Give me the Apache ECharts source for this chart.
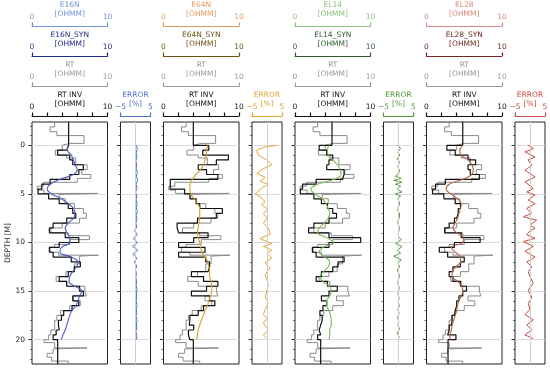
<!DOCTYPE html>
<html><head><meta charset="utf-8">
<script src="https://cdn.jsdelivr.net/npm/echarts@6/dist/echarts.min.js"></script>
<style>html,body{margin:0;padding:0;background:#fff}#c{width:550px;height:368px}</style>
</head><body><div id="c"></div>
<script>
// ---------- DATA ----------
const depthMajor = [0, 5, 10, 15, 20];
const depthMinor = [-2, -1, 1, 2, 3, 4, 6, 7, 8, 9, 11, 12, 13, 14, 16, 17, 18, 19, 21, 22];
const rtTicksTop = [0, 10];
const rtInvTicks = [0, 2, 4, 6, 8, 10];
const errTicks = [-5, 5];

// RT (true log, gray) layer boundaries and values
const rtBounds = [-2.4, -1.9, -1.4, -1.0, -0.2, 0, 0.5, 1.0, 1.3, 2.0, 2.5, 3.0, 3.4, 3.8, 4.2, 4.6, 4.95, 5.05, 5.5, 6.0, 6.5, 7.0, 7.5, 8.0, 8.5, 9.0, 9.3, 9.7, 10.2, 10.5, 11.0, 11.3, 11.4, 12.2, 13.0, 13.5, 14.0, 14.5, 15.0, 15.5, 16.0, 16.5, 17.0, 17.5, 18.0, 19.0, 19.5, 20.0, 20.3, 20.85, 20.95, 21.4, 21.8, 22.2, 22.5];
const rtValues = [3.0, 2.4, 3.3, 6.9, 5.0, 4.0, 3.1, 4.6, 5.8, 7.3, 6.6, 7.8, 6.0, 1.5, 0.7, 1.6, 8.7, 3.6, 4.4, 5.6, 6.8, 7.2, 6.3, 4.0, 2.5, 4.8, 7.6, 5.0, 3.0, 2.4, 3.5, 8.8, 6.3, 5.6, 4.5, 3.2, 4.6, 7.0, 7.2, 5.5, 6.4, 5.0, 3.8, 3.3, 3.0, 2.5, 2.2, 1.6, 3.0, 7.3, 2.8, 2.0, 2.6, 4.8];

// Inversion (RT INV) layer boundaries (shared) and per-dataset values
const invBounds = [-2.4, 0, 0.5, 1, 1.5, 2, 2.5, 3, 3.5, 4, 4.5, 5, 5.5, 6, 6.5, 7, 7.5, 8, 8.5, 9, 9.5, 10, 10.5, 11, 11.5, 12, 12.5, 13, 13.5, 14, 14.5, 15, 15.5, 16, 16.5, 17, 17.5, 18, 18.5, 19, 19.5, 20, 22.5];
const invE16N = [4.85, 4.6, 3.4, 5.0, 5.4, 6.8, 6.2, 5.0, 2.4, 1.3, 0.8, 2.2, 3.6, 4.8, 5.4, 5.8, 4.6, 2.8, 2.3, 4.4, 6.2, 3.6, 2.3, 2.8, 5.2, 6.4, 5.6, 4.8, 3.6, 4.6, 6.3, 6.8, 5.4, 6.2, 5.3, 4.2, 3.9, 3.5, 3.6, 3.2, 2.8, 3.4];
const invE64N = [3.95, 6.0, 5.2, 8.6, 7.0, 4.6, 5.7, 7.2, 0.9, 0.9, 2.8, 3.5, 4.3, 4.8, 7.8, 7.0, 4.5, 1.8, 2.0, 5.9, 4.0, 2.0, 5.5, 2.0, 5.6, 6.1, 5.9, 3.7, 5.3, 7.2, 5.7, 3.7, 6.1, 6.8, 5.3, 4.6, 3.5, 3.4, 4.0, 3.3, 3.5, 3.95];
const invEL14 = [4.9, 3.2, 4.2, 5.0, 4.5, 4.2, 6.5, 6.3, 2.8, 1.0, 0.7, 2.5, 3.5, 4.3, 5.0, 5.5, 4.5, 2.5, 1.8, 4.5, 8.7, 4.5, 2.3, 2.8, 6.5, 5.7, 5.0, 3.5, 2.8, 4.3, 5.6, 4.5, 3.5, 4.2, 3.7, 3.3, 3.6, 3.4, 3.2, 3.4, 3.0, 3.4];
const invEL28 = [4.8, 2.7, 3.8, 5.5, 6.5, 5.5, 5.8, 7.0, 2.5, 1.2, 0.8, 2.3, 3.8, 4.5, 4.2, 4.0, 3.7, 3.0, 2.4, 4.6, 7.1, 3.7, 1.7, 2.8, 5.0, 4.5, 3.5, 3.0, 3.5, 4.5, 5.3, 4.8, 4.3, 4.0, 3.8, 3.7, 3.4, 3.3, 3.0, 2.8, 3.9, 2.85];

// Synthetic responses
const synDepth = [0, 0.5, 1, 1.5, 2, 2.5, 3, 3.5, 4, 4.5, 5, 5.5, 6, 6.5, 7, 7.5, 8, 8.5, 9, 9.5, 10, 10.5, 11, 11.5, 12, 12.5, 13, 13.5, 14, 14.5, 15, 15.5, 16, 16.5, 17, 17.5, 18, 18.5, 19, 19.5, 20];
const synE16N = [4.8, 4.7, 5.2, 5.5, 5.7, 6.0, 5.5, 3.7, 2.4, 2.0, 2.6, 3.9, 4.8, 5.5, 5.7, 5.5, 4.8, 4.4, 4.6, 5.0, 5.0, 3.9, 3.7, 5.2, 6.1, 5.9, 5.4, 5.0, 4.9, 5.7, 6.6, 6.3, 6.1, 5.8, 5.3, 5.0, 4.8, 4.6, 4.4, 4.1, 3.9];
const synE64N = [5.9, 5.7, 5.7, 5.5, 5.3, 4.9, 4.3, 3.8, 3.5, 3.5, 3.6, 4.1, 4.5, 4.8, 4.8, 4.8, 4.7, 4.6, 4.5, 4.6, 4.8, 4.9, 5.1, 5.5, 5.9, 6.0, 6.1, 6.1, 6.3, 6.4, 6.4, 6.2, 6.0, 5.8, 5.5, 5.3, 5.0, 4.8, 4.6, 4.5, 4.4];
const synEL14 = [4.5, 4.3, 4.4, 5.0, 5.6, 6.0, 6.1, 5.2, 3.0, 2.1, 2.6, 3.6, 4.1, 4.4, 4.6, 4.4, 3.9, 3.2, 3.0, 4.2, 5.1, 3.7, 3.2, 4.0, 4.6, 4.4, 3.8, 3.3, 3.7, 4.6, 4.8, 4.6, 4.2, 4.2, 4.5, 4.7, 4.8, 4.8, 4.6, 4.6, 4.5];
const synEL28 = [4.8, 4.4, 4.6, 5.5, 6.0, 6.2, 6.0, 4.8, 3.0, 2.6, 3.2, 4.1, 4.6, 4.5, 4.3, 4.1, 3.8, 3.5, 4.0, 4.9, 4.8, 3.3, 3.8, 4.5, 4.5, 3.9, 3.4, 3.4, 4.1, 4.7, 4.8, 4.6, 4.3, 4.1, 4.0, 3.8, 3.6, 3.4, 3.3, 3.1, 3.1];

// Relative errors [%]
const errDepthE16N = [0, 0.4, 0.8, 1.2, 1.6, 2.0, 2.4, 2.8, 3.2, 3.6, 4.0, 4.4, 4.8, 5.2, 5.6, 6.0, 6.4, 6.8, 7.2, 7.6, 8.0, 8.4, 8.8, 9.2, 9.6, 10.0, 10.4, 10.8, 11.2, 11.6, 12.0, 12.4, 12.8, 13.2, 13.6, 14.0, 14.4, 14.8, 15.2, 15.6, 16.0, 16.4, 16.8, 17.2, 17.6, 18.0, 18.4, 18.8, 19.2, 19.6, 20.0];
const errE16N = [0.3, 0.6, 0.2, 0.5, 0.1, 0.4, 0.2, 0.6, 0.3, 0.7, 0.2, 0.5, 0.0, 0.4, 0.2, 0.5, 0.3, 0.6, 0.2, 0.5, 0.1, 0.4, -0.3, 0.6, -0.8, 0.7, -1.0, 0.8, -0.9, 0.5, -0.4, 0.4, 0.0, 0.3, 0.1, 0.4, 0.2, 0.5, 0.3, 0.4, 0.2, 0.5, 0.3, 0.4, 0.2, 0.5, 0.3, 0.4, 0.1, 0.5, 0.2];
const errDepthE64N = [0, 0.2, 0.5, 1.0, 1.5, 2.0, 2.4, 2.9, 3.3, 3.7, 4.0, 4.4, 5.0, 5.3, 5.8, 6.1, 6.6, 7.0, 7.5, 8.0, 8.5, 9.1, 9.6, 10.1, 10.4, 10.8, 11.1, 11.6, 12.1, 12.6, 13.3, 13.8, 14.4, 14.9, 15.6, 16.2, 16.9, 17.4, 17.8, 18.3, 19.0, 19.5, 19.9];
const errE64N = [3.2, -1.2, -3.4, -2.9, -0.1, 1.6, -1.2, -3.4, -0.6, -2.3, 0.4, -1.8, -3.9, -2.3, -0.6, -1.8, 0.4, -1.2, 0.0, -1.2, 0.4, 1.2, -2.3, 1.6, -1.2, 1.6, 0.0, 1.6, -0.6, 1.0, -0.6, 0.0, 0.4, 0.0, -0.6, 0.4, -0.6, -1.2, 0.0, -1.2, 0.4, -1.2, 0.0];
const errDepthEL14 = [0, 0.3, 0.7, 1.0, 1.4, 1.7, 2.2, 2.7, 3.2, 3.4, 3.6, 3.8, 4.0, 4.2, 4.5, 4.8, 5.0, 5.2, 5.5, 6.0, 6.4, 6.7, 7.0, 7.4, 7.7, 8.0, 8.4, 8.7, 9.1, 9.4, 9.7, 10.1, 10.4, 10.8, 11.1, 11.4, 11.8, 12.1, 12.5, 12.8, 13.2, 13.5, 13.9, 14.2, 14.6, 14.9, 15.3, 15.7, 16.1, 16.5, 16.9, 17.3, 17.7, 18.1, 18.5, 18.9, 19.3, 19.7, 20.0];
const errEL14 = [-0.4, 0.7, -0.2, 0.4, -0.4, 0.3, -0.2, 0.4, -1.0, 0.9, -1.6, 1.2, -1.0, 0.7, -0.4, 1.2, -1.0, 0.7, -0.2, 0.4, -0.1, -0.2, 0.3, 0.4, -0.1, -0.2, 0.2, 0.2, -0.1, 0.0, 0.9, -1.0, 1.2, -0.4, 0.7, -1.6, 0.9, -0.2, 0.4, -0.4, 0.1, 0.3, -0.1, -0.2, 0.2, 0.1, -0.2, 0.2, -0.1, 0.3, -0.2, 0.2, -0.3, 0.1, -0.2, 0.3, -0.4, 0.2, -0.1];
const errDepthEL28 = [0, 0.34, 0.68, 1.2, 1.5, 2.05, 2.56, 3.25, 3.76, 4.44, 4.8, 5.1, 5.64, 6.0, 6.5, 7.0, 7.35, 7.7, 8.2, 8.55, 8.8, 9.2, 9.57, 9.9, 10.4, 10.9, 11.5, 12.0, 12.5, 13.0, 13.5, 14.2, 14.9, 15.6, 16.3, 16.9, 17.4, 17.95, 18.5, 19.0, 19.5, 19.9];
const errEL28 = [-0.6, 1.1, -1.7, 1.7, -0.6, 0.6, -1.7, 1.7, -1.7, 1.1, -1.1, 1.7, -0.6, 1.7, -1.1, 0.6, -2.2, 2.2, 0.0, 1.7, 0.0, -1.1, 1.7, -2.2, 1.1, -1.7, 1.7, -1.1, 0.6, -0.6, 0.0, 1.1, -0.6, 0.6, -0.6, 0.0, -1.7, 1.1, -1.1, 0.6, -1.7, 1.1];

// ---------- STYLE / LAYOUT ----------
const FONT = 'DejaVu Sans';
const FS = 7.5;
const TOP = 122, H = 242, RTW = 75.5, ERRW = 30;
const rtLefts = [32, 163.5, 295, 426.5];
const errLefts = [120.5, 252, 383.5, 515];
const Y_MIN = -2.4, Y_MAX = 22.5;

const panels = [
  {meas: 'E16N', syn: 'E16N_SYN', measColor: '#7593d8', synColor: '#232d86', lineColor: '#4a5cc2', errColor: '#4a6fca', inv: invE16N, synV: synE16N, errD: errDepthE16N, errV: errE16N},
  {meas: 'E64N', syn: 'E64N_SYN', measColor: '#e59a5c', synColor: '#6b5314', lineColor: '#cfa332', errColor: '#e3a434', inv: invE64N, synV: synE64N, errD: errDepthE64N, errV: errE64N},
  {meas: 'EL14', syn: 'EL14_SYN', measColor: '#8fc37e', synColor: '#2f5e2a', lineColor: '#7bb85a', errColor: '#4f9b36', inv: invEL14, synV: synEL14, errD: errDepthEL14, errV: errEL14},
  {meas: 'EL28', syn: 'EL28_SYN', measColor: '#d38a7e', synColor: '#6e2a1f', lineColor: '#b4604e', errColor: '#c94a40', inv: invEL28, synV: synEL28, errD: errDepthEL28, errV: errEL28}
];

function stepPoints(bounds, vals) {
  const pts = [];
  for (let k = 0; k < vals.length && k + 1 < bounds.length; k++) {
    pts.push([vals[k], bounds[k]]);
    pts.push([vals[k], bounds[k + 1]]);
  }
  return pts;
}
function pairPoints(depths, vals) {
  const n = Math.min(depths.length, vals.length);
  const pts = [];
  for (let k = 0; k < n; k++) pts.push([vals[k], depths[k]]);
  return pts;
}

const grids = [], xAxes = [], yAxes = [], series = [];

function topAxis(gridIndex, offset, name, color, min, max, ticks, labelTicks, fmt) {
  xAxes.push({
    type: 'value', gridIndex, position: 'top', offset, min, max,
    name, nameLocation: 'middle', nameGap: 7, nameMoveOverlap: false,
    nameTextStyle: {color, fontFamily: FONT, fontSize: FS, lineHeight: 9},
    axisLine: {show: true, onZero: false, lineStyle: {color, width: 1.2}},
    axisTick: {show: true, length: 3.5, inside: false, customValues: ticks, lineStyle: {color, width: 1.2}},
    axisLabel: {show: true, customValues: labelTicks, margin: 5, color, fontFamily: FONT, fontSize: FS, formatter: fmt, hideOverlap: false},
    splitLine: {show: false}
  });
  return xAxes.length - 1;
}
function depthAxes(gridIndex, withLabels) {
  yAxes.push({
    type: 'value', gridIndex, inverse: true, min: Y_MIN, max: Y_MAX, position: 'left',
    name: withLabels ? 'DEPTH [M]' : '', nameLocation: 'middle', nameGap: 20, nameRotate: 90, nameMoveOverlap: false,
    nameTextStyle: {color: '#222', fontFamily: FONT, fontSize: FS},
    axisLine: {show: false, onZero: false},
    axisTick: {show: true, length: 3.5, customValues: depthMajor, lineStyle: {color: '#333', width: 1}},
    axisLabel: {show: withLabels, customValues: depthMajor, margin: 7, color: '#222', fontFamily: FONT, fontSize: FS},
    splitLine: {show: true, lineStyle: {color: '#dcdcdc', width: 1}}
  });
  const major = yAxes.length - 1;
  yAxes.push({
    type: 'value', gridIndex, inverse: true, min: Y_MIN, max: Y_MAX, position: 'left',
    axisLine: {show: false, onZero: false},
    axisTick: {show: true, length: 2, customValues: depthMinor, lineStyle: {color: '#444', width: 0.8}},
    axisLabel: {show: false},
    splitLine: {show: false}
  });
  return major;
}

const fmtNum = v => String(v);
const fmtErr = v => (v < 0 ? '\u2212' + Math.abs(v) : String(v));

panels.forEach((p, i) => {
  const gRT = grids.length;
  grids.push({left: rtLefts[i], top: TOP, width: RTW, height: H, show: true, borderColor: '#222', borderWidth: 1, backgroundColor: 'transparent', containLabel: false, outerBoundsMode: 'none'});
  const yRT = depthAxes(gRT, i === 0);
  const xInv = topAxis(gRT, 6, 'RT INV\n[OHMM]', '#111', 0, 10, rtInvTicks, rtTicksTop, fmtNum);
  const xRT = topAxis(gRT, 36, 'RT\n[OHMM]', '#9a9a9a', 0, 10, rtTicksTop, rtTicksTop, fmtNum);
  const xSyn = topAxis(gRT, 66, p.syn + '\n[OHMM]', p.synColor, 0, 10, rtTicksTop, rtTicksTop, fmtNum);
  topAxis(gRT, 96, p.meas + '\n[OHMM]', p.measColor, 0, 10, rtTicksTop, rtTicksTop, fmtNum);

  series.push({type: 'line', xAxisIndex: xRT, yAxisIndex: yRT, data: stepPoints(rtBounds, rtValues), symbol: 'none', lineStyle: {color: '#8a8a8a', width: 1}, z: 2, animation: false, silent: true});
  series.push({type: 'line', xAxisIndex: xInv, yAxisIndex: yRT, data: stepPoints(invBounds, p.inv), symbol: 'none', lineStyle: {color: '#111', width: 1.2}, z: 3, animation: false, silent: true});
  series.push({type: 'line', xAxisIndex: xSyn, yAxisIndex: yRT, data: pairPoints(synDepth, p.synV), symbol: 'none', smooth: 0.4, lineStyle: {color: p.lineColor, width: 1.1}, z: 4, animation: false, silent: true});

  const gE = grids.length;
  grids.push({left: errLefts[i], top: TOP, width: ERRW, height: H, show: true, borderColor: '#222', borderWidth: 1, backgroundColor: 'transparent', containLabel: false, outerBoundsMode: 'none'});
  const yE = depthAxes(gE, false);
  const xE = topAxis(gE, 6, 'ERROR\n[%]', p.errColor, -5, 5, errTicks, errTicks, fmtErr);
  series.push({type: 'line', xAxisIndex: xE, yAxisIndex: yE, data: pairPoints(p.errD, p.errV), symbol: 'none', lineStyle: {color: p.errColor, width: 1}, z: 4, animation: false, silent: true,
    markLine: {silent: true, symbol: 'none', label: {show: false}, animation: false, lineStyle: {color: '#d0d0d0', width: 1, type: 'solid'}, data: [{xAxis: 0}]}});
});

const chart = echarts.init(document.getElementById('c'), null, {renderer: 'canvas'});
chart.setOption({animation: false, grid: grids, xAxis: xAxes, yAxis: yAxes, series});
</script></body></html>
